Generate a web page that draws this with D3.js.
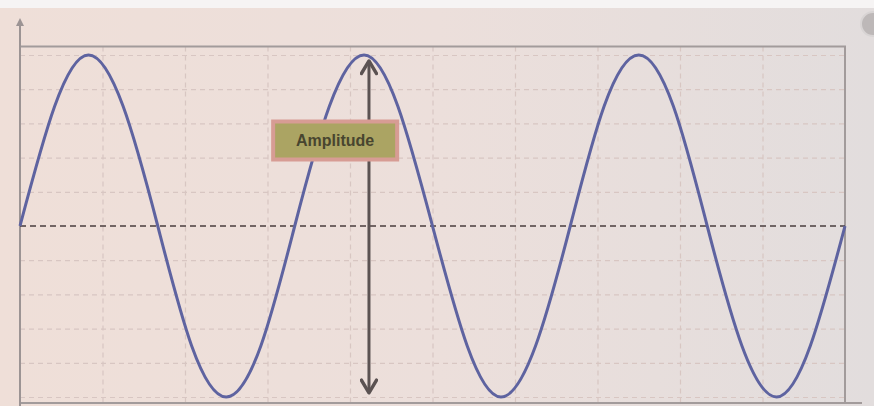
<!DOCTYPE html>
<meta charset="utf-8">
<style>
  body { margin: 0; background: #ece2df; }
  .grid line { stroke: #d8c6c2; stroke-width: 1.2; stroke-dasharray: 5, 4; }
  .grid path { display: none; }
  .lbl { font-family: "Liberation Sans", Arial, sans-serif; font-size: 16px; font-weight: bold; fill: #48452f; }
</style>
<body>
<script src="https://cdn.jsdelivr.net/npm/d3@7"></script>
<script>
  // wave samples (x in grid divisions, y in grid divisions)
  var waveX = [0, 0.42, 0.83, 1.25, 1.67, 2.08, 2.5, 2.92, 3.33, 3.75, 4.17, 4.58, 5,
               5.42, 5.83, 6.25, 6.67, 7.08, 7.5, 7.92, 8.33, 8.75, 9.17, 9.58, 10];
  var waveY = [0, 3.5, 5, 3.5, 0, -3.5, -5, -3.5, 0, 3.5, 5, 3.5, 0,
               -3.5, -5, -3.5, 0, 3.5, 5, 3.5, 0, -3.5, -5, -3.5, 0];
  var gridX = [1, 2, 3, 4, 5, 6, 7, 8, 9];
  var gridY = [-5, -4, -3, -2, -1, 1, 2, 3, 4, 5];
  var ampX = 4.23, ampTop = 4.8, ampBottom = -4.85;
  var labelText = "Amplitude", labelX = 3.82, labelY = 2.5;

  var W = 874, H = 406;
  var x = d3.scaleLinear().domain([0, 10]).range([20, 845]);
  var y = d3.scaleLinear().domain([-5, 5]).range([397, 55]);

  var svg = d3.select("body").append("svg").attr("width", W).attr("height", H);
  var defs = svg.append("defs");

  var bg = defs.append("linearGradient").attr("id", "bg").attr("x1", 0).attr("x2", 1).attr("y1", 0).attr("y2", 0);
  bg.append("stop").attr("offset", 0).attr("stop-color", "#efdfd8");
  bg.append("stop").attr("offset", 0.5).attr("stop-color", "#ecdfdb");
  bg.append("stop").attr("offset", 1).attr("stop-color", "#e2dddd");
  svg.append("rect").attr("width", W).attr("height", H).attr("fill", "url(#bg)");
  svg.append("rect").attr("width", W).attr("height", 8).attr("fill", "#f6f4f4");

  // arrow heads
  defs.append("marker").attr("id", "ah").attr("viewBox", "0 0 10 10").attr("refX", 8).attr("refY", 5)
    .attr("markerWidth", 6).attr("markerHeight", 6).attr("orient", "auto-start-reverse")
    .attr("markerUnits", "strokeWidth")
    .append("path").attr("d", "M1.5,0.8 L8.5,5 L1.5,9.2").attr("fill", "none").attr("stroke", "#5b5252")
    .attr("stroke-width", 1.9).attr("stroke-linecap", "round").attr("stroke-linejoin", "round");
  defs.append("marker").attr("id", "axh").attr("viewBox", "0 0 10 10").attr("refX", 5).attr("refY", 5)
    .attr("markerWidth", 6).attr("markerHeight", 4).attr("orient", "auto")
    .append("path").attr("d", "M0,0 L10,5 L0,10 Z").attr("fill", "#9c9494");

  // dashed grid via axes
  svg.append("g").attr("class", "grid")
    .attr("transform", "translate(0," + y(5.25) + ")")
    .call(d3.axisBottom(x).tickValues(gridX).tickSize(H - y(5.25)).tickFormat(""));
  svg.append("g").attr("class", "grid")
    .attr("transform", "translate(" + x(0) + ",0)")
    .call(d3.axisRight(y).tickValues(gridY).tickSize(x(10) - x(0)).tickFormat(""));

  // frame
  svg.append("path")
    .attr("d", "M" + x(0) + "," + y(5.25) + "H" + x(10) + "V" + (H - 4))
    .attr("fill", "none").attr("stroke", "#a29b9b").attr("stroke-width", 2);
  svg.append("line").attr("x1", x(0)).attr("x2", 862).attr("y1", H - 3).attr("y2", H - 3)
    .attr("stroke", "#a29b9b").attr("stroke-width", 2);
  svg.append("line").attr("x1", x(0)).attr("x2", x(0)).attr("y1", H).attr("y2", 22)
    .attr("stroke", "#9c9494").attr("stroke-width", 2).attr("marker-end", "url(#axh)");

  // midline
  svg.append("line").attr("x1", x(0)).attr("x2", x(10)).attr("y1", y(0)).attr("y2", y(0))
    .attr("stroke", "#4a3e3e").attr("stroke-width", 1.6).attr("stroke-dasharray", "6,4");

  // wave
  var pts = waveX.map(function (d, i) { return [d, waveY[i]]; });
  var line = d3.line().x(function (d) { return x(d[0]); }).y(function (d) { return y(d[1]); })
    .curve(d3.curveNatural);
  svg.append("path").datum(pts).attr("d", line)
    .attr("fill", "none").attr("stroke", "#5e63a0").attr("stroke-width", 3);

  // amplitude arrow
  svg.append("line").attr("x1", x(ampX)).attr("x2", x(ampX)).attr("y1", y(ampTop)).attr("y2", y(ampBottom))
    .attr("stroke", "#5b5252").attr("stroke-width", 3)
    .attr("marker-start", "url(#ah)").attr("marker-end", "url(#ah)");

  // label box
  var g = svg.append("g").attr("transform", "translate(" + x(labelX) + "," + y(labelY) + ")");
  g.append("rect").attr("x", -62).attr("y", -19).attr("width", 124).attr("height", 38)
    .attr("fill", "#aba463").attr("stroke", "#d79c94").attr("stroke-width", 4);
  g.append("text").attr("class", "lbl").attr("text-anchor", "middle").attr("dy", "0.35em").text(labelText);

  // corner button
  svg.append("circle").attr("cx", 873).attr("cy", 24).attr("r", 12)
    .attr("fill", "#bdb8b8").attr("stroke", "#d8d4d4").attr("stroke-width", 2);
</script>
</body>
